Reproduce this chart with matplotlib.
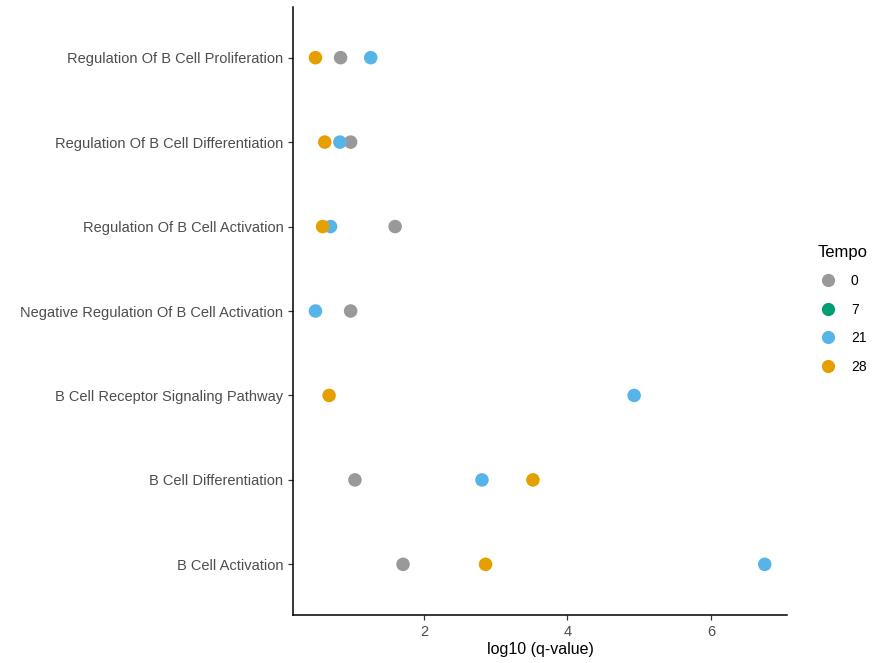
import matplotlib.pyplot as plt
from matplotlib.lines import Line2D

plt.rcParams['font.family'] = ['Liberation Sans', 'DejaVu Sans']

terms = [
    "B Cell Activation",
    "B Cell Differentiation",
    "B Cell Receptor Signaling Pathway",
    "Negative Regulation Of B Cell Activation",
    "Regulation Of B Cell Activation",
    "Regulation Of B Cell Differentiation",
    "Regulation Of B Cell Proliferation",
]

# log10 (q-value) per timepoint; None = not present
tempo_0 = [1.71, 1.04, None, 0.98, 1.60, 0.98, 0.84]
tempo_7 = [None, None, None, None, None, None, None]
tempo_21 = [6.75, 2.81, 4.93, 0.49, 0.70, 0.83, 1.26]
tempo_28 = [2.86, 3.52, 0.68, None, 0.59, 0.62, 0.49]

tempo_labels = ["0", "7", "21", "28"]
colors = ["#999999", "#009E73", "#56B4E9", "#E69F00"]

fig = plt.figure(figsize=(8.72, 6.63), dpi=100)
ax = fig.add_axes([293 / 872, 48 / 663, 494 / 872, 608 / 663])

for series, col in zip([tempo_0, tempo_7, tempo_21, tempo_28], colors):
    ys = [i for i, v in enumerate(series) if v is not None]
    xs = [v for v in series if v is not None]
    ax.scatter(xs, ys, s=95, color=col, edgecolors="none", zorder=3)

ax.set_yticks(range(len(terms)))
ax.set_yticklabels(terms)
ax.set_ylim(-0.6, len(terms) - 0.4)
ax.set_xlim(0.177, 7.06)
ax.set_xticks([2, 4, 6])
ax.set_xlabel("log10 (q-value)", fontsize=11.5, color="black", labelpad=2)

for side in ["top", "right"]:
    ax.spines[side].set_visible(False)
for side in ["left", "bottom"]:
    ax.spines[side].set_linewidth(1.1)
    ax.spines[side].set_color("black")
ax.tick_params(axis="both", colors="#333333", labelcolor="#4D4D4D",
               labelsize=10.5, length=3.5, width=0.9)
ax.tick_params(axis="x", pad=4)

handles = [Line2D([], [], marker="o", linestyle="", markersize=9.5,
                  markerfacecolor=c, markeredgecolor="none") for c in colors]
leg = fig.legend(handles, tempo_labels, title="Tempo", loc="upper left",
                 bbox_to_anchor=(805 / 872, 1 - 232 / 663), frameon=False,
                 fontsize=10, title_fontsize=12, handletextpad=0.9,
                 labelspacing=1.05, handlelength=1.5)
leg._legend_box.align = "left"

fig.savefig("out.png", dpi=100)
